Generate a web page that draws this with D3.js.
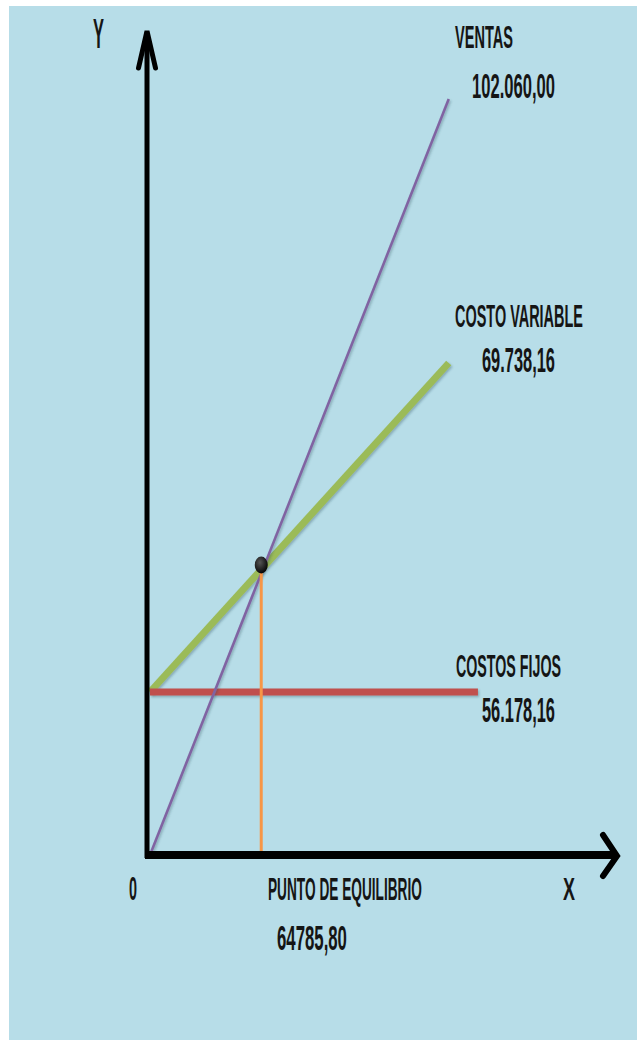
<!DOCTYPE html>
<html>
<head>
<meta charset="utf-8">
<script src="https://cdn.jsdelivr.net/npm/d3@7"></script>
<style>
  html, body { margin: 0; padding: 0; background: #fff; }
  svg { display: block; }
</style>
</head>
<body>
<script>
// Gráfico del punto de equilibrio: ventas, costo variable y costos fijos
const seriesNames   = ["VENTAS", "COSTO VARIABLE", "COSTOS FIJOS"];
const startValues   = [0, 56178.16, 56178.16];        // valor en el eje Y (actividad 0)
const endValues     = [102060.00, 69738.16, 56178.16]; // valor al final de cada recta
const endActivity   = [174000, 174000, 191000];        // nivel de actividad al final de cada recta
const breakEvenValue = 64785.80;
const axisNames     = ["Y", "X", "0"];

const W = 637, H = 1040;
const colors = ["#8064a2", "#9bbb59", "#c0504d"];
const widths = [2.6, 7, 7];

// número con formato español: 102.060,00
const es = d3.formatLocale({ decimal: ",", thousands: ".", grouping: [3], currency: ["$", ""] });
const fmtGrouped = es.format(",.2f");
const fmtPlain = es.format(".2f");

const svg = d3.select("body").append("svg")
  .attr("width", W).attr("height", H);

const defs = svg.append("defs");
defs.append("filter").attr("id", "shadow")
  .attr("filterUnits", "userSpaceOnUse")
  .attr("x", 0).attr("y", 0).attr("width", W).attr("height", H)
  .append("feDropShadow")
  .attr("dx", 1.2).attr("dy", 1.6).attr("stdDeviation", 1.2)
  .attr("flood-color", "#2a4a55").attr("flood-opacity", 0.35);
const grad = defs.append("radialGradient").attr("id", "dotGrad")
  .attr("cx", "40%").attr("cy", "35%").attr("r", "65%");
grad.append("stop").attr("offset", "0%").attr("stop-color", "#555");
grad.append("stop").attr("offset", "100%").attr("stop-color", "#050505");

// panel de fondo
svg.append("rect")
  .attr("x", 9).attr("y", 6).attr("width", W - 9).attr("height", H - 6)
  .attr("fill", "#b7dde8");

// escalas: eje X de actividad, eje Y esquemático (tramos lineales)
const x = d3.scaleLinear().domain([0, 272000]).range([150, 617]);
const y = d3.scaleLinear()
  .domain([0, startValues[1], breakEvenValue, endValues[1], endValues[0]])
  .range([855, 692, 565, 363, 99]);

const line = d3.line().x(d => x(d[0])).y(d => y(d[1]));

const seriesData = seriesNames.map((name, i) => ({
  name,
  pts: [[0, startValues[i]], [endActivity[i], endValues[i]]],
  color: colors[i],
  width: widths[i]
}));

// orden de dibujo: costo variable, costos fijos, ventas
const drawOrder = [1, 2, 0];
svg.append("g").selectAll("path")
  .data(drawOrder.map(i => seriesData[i]))
  .join("path")
  .attr("d", d => line(d.pts))
  .attr("fill", "none")
  .attr("stroke", d => d.color)
  .attr("stroke-width", d => d.width)
  .attr("stroke-linecap", "butt")
  .attr("filter", "url(#shadow)");

// línea del punto de equilibrio
svg.append("path")
  .attr("d", line([[breakEvenValue, 0], [breakEvenValue, breakEvenValue]]))
  .attr("stroke", "#f79646").attr("stroke-width", 3).attr("fill", "none");

// ejes con flechas
const axes = svg.append("g").attr("stroke", "#000").attr("fill", "none");
const x0 = x(0) - 3, y0 = y(0);
axes.append("line")
  .attr("x1", x0).attr("y1", y0 + 3).attr("x2", x0).attr("y2", 33)
  .attr("stroke-width", 5);
axes.append("polyline")
  .attr("points", [[x0 - 8.5, 68], [x0, 31], [x0 + 8.5, 68]].join(" "))
  .attr("stroke-width", 5).attr("stroke-linejoin", "miter").attr("stroke-linecap", "round");
axes.append("line")
  .attr("x1", x0 - 2).attr("y1", y0).attr("x2", x.range()[1] - 3).attr("y2", y0)
  .attr("stroke-width", 8);
axes.append("polyline")
  .attr("points", [[x.range()[1] - 14, y0 - 20], [x.range()[1], y0 + 1], [x.range()[1] - 14, y0 + 21]].join(" "))
  .attr("stroke-width", 6).attr("stroke-linejoin", "miter").attr("stroke-linecap", "round");

// punto de equilibrio
svg.append("ellipse")
  .attr("cx", x(breakEvenValue)).attr("cy", y(breakEvenValue))
  .attr("rx", 6.5).attr("ry", 8.5)
  .attr("fill", "url(#dotGrad)");

// textos: letra estrecha y alta; se mide el ancho natural y se estira en vertical
const textG = svg.append("g")
  .attr("font-family", "'Liberation Sans Narrow','Arial Narrow','Liberation Sans',Arial,sans-serif")
  .attr("font-weight", 700)
  .attr("fill", "#151515");

function label(txt, lx, baseline, width, capHeight) {
  const g = textG.append("g");
  const t = g.append("text").attr("x", 0).attr("y", 0)
    .attr("font-size", 20).text(txt);
  const natural = t.node().getComputedTextLength();
  const size = 20 * width / natural;
  t.attr("font-size", size);
  const sy = capHeight / (size * 0.716);
  g.attr("transform", `translate(${lx},${baseline}) scale(1,${sy})`);
}

// posición de las etiquetas de cada recta: [nombre x, nombre y, valor x, valor y]
const labelLayout = [
  [455, 48, 472, 98],
  [455, 327, 482, 372],
  [456, 677, 482, 722]
];
const nameWidths = [58, 128, 105];
const valueWidths = [83, 73, 73];

seriesNames.forEach((name, i) => {
  const L = labelLayout[i];
  label(name, L[0], L[1], nameWidths[i], 22);
  label(fmtGrouped(endValues[i]), L[2], L[3], valueWidths[i], 25);
});

label(axisNames[0], 93, 48, 11, 30);
label(axisNames[1], 563, 900, 12, 23);
label(axisNames[2], 129, 900, 8, 24);
label("PUNTO DE EQUILIBRIO", 268, 900, 154, 23);
label(fmtPlain(breakEvenValue), 277, 950, 70, 25);
</script>
</body>
</html>
